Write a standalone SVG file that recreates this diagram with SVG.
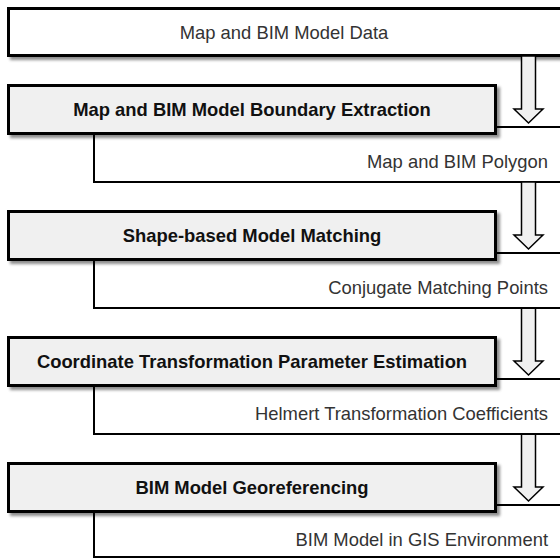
<svg xmlns="http://www.w3.org/2000/svg" width="560" height="560" viewBox="0 0 560 560">
  <defs>
    <filter id="shadow" x="-5%" y="-20%" width="115%" height="150%">
      <feDropShadow dx="3" dy="3" stdDeviation="1.5" flood-color="#000" flood-opacity="0.45"/>
    </filter>
    <style>
      .input { fill: #ffffff; stroke: #000; stroke-width: 3; }
      .data { fill: #ffffff; stroke: #000; stroke-width: 2; }
      .step { fill: #f0f0f0; stroke: #000; stroke-width: 3; filter: url(#shadow); }
      .flow { fill: #f0f0f0; stroke: #000; stroke-width: 1.5; stroke-linejoin: miter; }
      .lbl { font-family: "Liberation Sans", Arial, sans-serif; font-size: 18.4px; fill: #333; }
      .title { font-family: "Liberation Sans", Arial, sans-serif; font-size: 18.4px; font-weight: bold; fill: #111; text-anchor: middle; }
    </style>
  </defs>

  <!-- source data -->
  <g id="input-data">
    <rect class="input" x="8.5" y="8.5" width="570" height="47" filter="url(#shadow)"/>
    <text class="lbl" x="284" y="39" text-anchor="middle">Map and BIM Model Data</text>
  </g>

  <!-- stage 1 -->
  <g id="polygon-data">
    <rect class="data" x="94" y="127" width="480" height="55"/>
    <text class="lbl" x="548" y="168" text-anchor="end">Map and BIM Polygon</text>
  </g>
  <g id="flow-arrows">
    <polygon class="flow" points="521.5,56 535.5,56 535.5,109 543,109 528.5,123 514,109 521.5,109"/>
    <polygon class="flow" points="521.5,182 535.5,182 535.5,235 543,235 528.5,249 514,235 521.5,235"/>
    <polygon class="flow" points="521.5,308 535.5,308 535.5,361 543,361 528.5,375 514,361 521.5,361"/>
    <polygon class="flow" points="521.5,434 535.5,434 535.5,487 543,487 528.5,501 514,487 521.5,487"/>
  </g>
  <g id="boundary-extraction">
    <rect class="step" x="8.5" y="85.5" width="487" height="48"/>
    <text class="title" x="252" y="116">Map and BIM Model Boundary Extraction</text>
  </g>

  <!-- stage 2 -->
  <g id="matching-points">
    <rect class="data" x="94" y="253" width="480" height="55"/>
    <text class="lbl" x="548" y="294" text-anchor="end">Conjugate Matching Points</text>
  </g>
  <g id="shape-matching">
    <rect class="step" x="8.5" y="211.5" width="487" height="48"/>
    <text class="title" x="252" y="242">Shape-based Model Matching</text>
  </g>

  <!-- stage 3 -->
  <g id="helmert-coefficients">
    <rect class="data" x="94" y="379" width="480" height="55"/>
    <text class="lbl" x="548" y="420" text-anchor="end">Helmert Transformation Coefficients</text>
  </g>
  <g id="parameter-estimation">
    <rect class="step" x="8.5" y="337.5" width="487" height="48"/>
    <text class="title" x="252" y="368">Coordinate Transformation Parameter Estimation</text>
  </g>

  <!-- stage 4 -->
  <g id="gis-model">
    <rect class="data" x="94" y="505" width="480" height="52"/>
    <text class="lbl" x="548" y="546" text-anchor="end">BIM Model in GIS Environment</text>
  </g>
  <g id="georeferencing">
    <rect class="step" x="8.5" y="463.5" width="487" height="48"/>
    <text class="title" x="252" y="494">BIM Model Georeferencing</text>
  </g>
</svg>
